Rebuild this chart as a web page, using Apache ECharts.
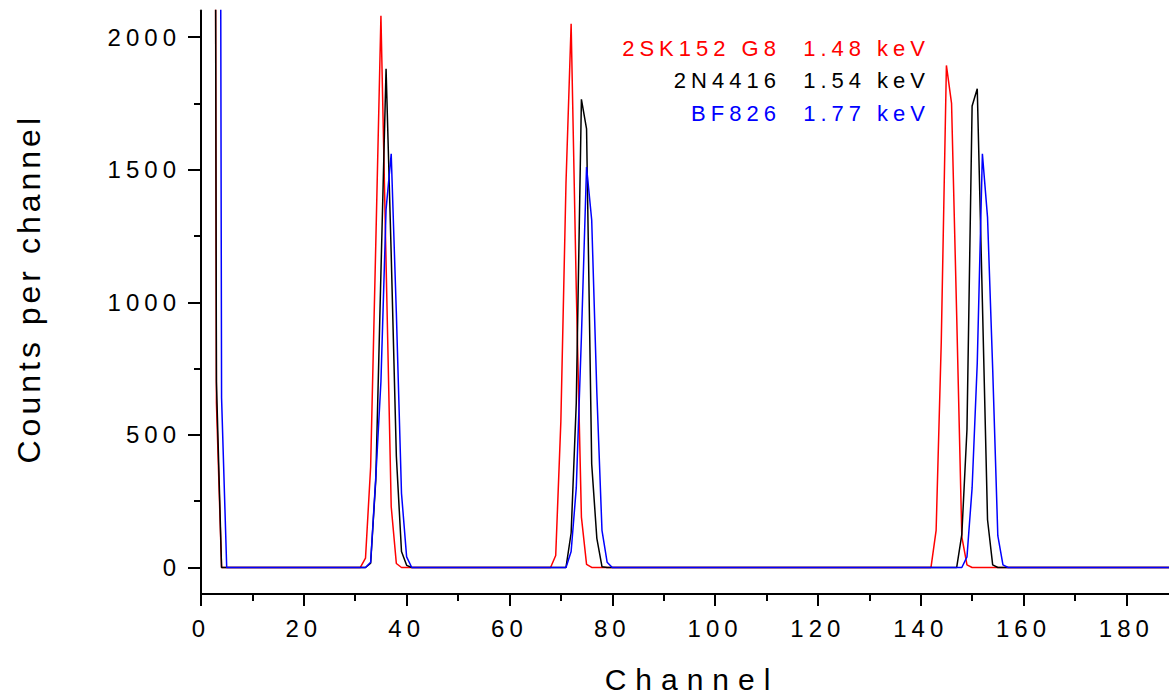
<!DOCTYPE html>
<html><head><meta charset="utf-8">
<script src="https://cdn.jsdelivr.net/npm/echarts@6/dist/echarts.min.js"></script>
<style>
html,body{margin:0;padding:0;background:#fff}
#c{width:1169px;height:698px}
#c text{white-space:pre}
#c text[style*="24px"]{letter-spacing:5px}
#c text[style*="Arial"]{letter-spacing:5px}
#c text[style*="30px"]{letter-spacing:9px}
#c text[style*="32px"]{letter-spacing:4px}
</style></head><body><div id="c"></div>
<script>
// ---- data ----
const channelTicks = [0,20,40,60,80,100,120,140,160,180];
const channelMinorTicks = [10,30,50,70,90,110,130,150,170];
const countTicks = [0,500,1000,1500,2000];
const countMinorTicks = [250,750,1250,1750];

const seriesNames = ['2SK152 G8', '2N4416', 'BF826'];
const legendLabels = ['2SK152 G8  1.48 keV', '2N4416  1.54 keV', 'BF826  1.77 keV'];

const redChannels = [2,3,4, 31,32,33,34,35,36,37,38,39, 68,69,70,71,72,73,74,75,76, 142,143,144,145,146,147,148,149,150, 189];
const redCounts   = [10000,620,0, 0,35,380,1220,2080,1150,230,15,0, 0,45,550,1450,2050,1050,190,12,0, 0,140,850,1893,1750,950,115,10,0, 0];

const blackChannels = [2,3,4, 32,33,34,35,36,37,38,39,40,41, 71,72,73,74,75,76,77,78,79, 147,148,149,150,151,152,153,154,155, 189];
const blackCounts   = [10000,700,0, 0,16,330,1110,1880,1180,420,60,8,0, 0,130,620,1765,1654,390,110,3,0, 0,125,520,1740,1805,1000,180,10,0, 0];

const blueChannels = [3,4,5, 32,33,34,35,36,37,38,39,40,41, 71,72,73,74,75,76,77,78,79,80, 148,149,150,151,152,153,154,155,156,157, 189];
const blueCounts   = [10000,640,0, 0,20,340,700,1350,1560,960,280,40,0, 0,60,300,870,1510,1310,660,140,20,0, 0,40,300,770,1560,1320,750,120,10,0, 0];

const colors = ['#ff0000', '#000000', '#0000ff'];

// ---- build chart ----
function pairs(xs, ys) { return xs.map((x, i) => [x, ys[i]]); }
const seriesData = [pairs(redChannels, redCounts), pairs(blackChannels, blackCounts), pairs(blueChannels, blueCounts)];

const chart = echarts.init(document.getElementById('c'), null, {renderer: 'svg'});
const axisFont = {color: '#000', fontSize: 24, fontFamily: 'Liberation Sans', formatter: v => String(v)};

const option = {
  animation: false,
  backgroundColor: '#ffffff',
  grid: {left: 201, right: 0, top: 10.5, bottom: 104, containLabel: false, outerBoundsMode: 'none'},
  xAxis: [
    {
      type: 'value', min: 0, max: 188.3, position: 'bottom',
      axisLine: {onZero: false, lineStyle: {color: '#000', width: 2}},
      axisTick: {customValues: channelTicks, length: 12, lineStyle: {color: '#000', width: 2}},
      axisLabel: Object.assign({customValues: channelTicks, margin: 22}, axisFont),
      splitLine: {show: false},
      name: 'Channel', nameLocation: 'middle', nameGap: 70, nameMoveOverlap: false,
      nameTextStyle: {fontSize: 30, color: '#000', fontFamily: 'Liberation Sans', padding: [0, 0, 0, 14]}
    },
    {
      type: 'value', min: 0, max: 188.3, position: 'bottom',
      axisLine: {show: false, onZero: false},
      axisTick: {customValues: channelMinorTicks, length: 7, lineStyle: {color: '#000', width: 2}},
      axisLabel: {show: false}, splitLine: {show: false}
    }
  ],
  yAxis: [
    {
      type: 'value', min: -100, max: 2100, position: 'left',
      axisLine: {show: true, onZero: false, lineStyle: {color: '#000', width: 2}},
      axisTick: {customValues: countTicks, length: 13, lineStyle: {color: '#000', width: 2}},
      axisLabel: Object.assign({customValues: countTicks, margin: 20}, axisFont),
      splitLine: {show: false},
      name: 'Counts per channel', nameLocation: 'middle', nameRotate: 90, nameGap: 156, nameMoveOverlap: false,
      nameTextStyle: {fontSize: 32, color: '#000', fontFamily: 'Liberation Sans', padding: [0, 0, 0, 27]}
    },
    {
      type: 'value', min: -100, max: 2100, position: 'left',
      axisLine: {show: false, onZero: false},
      axisTick: {customValues: countMinorTicks, length: 7, lineStyle: {color: '#000', width: 2}},
      axisLabel: {show: false}, splitLine: {show: false}
    }
  ],
  series: seriesNames.map((n, i) => ({
    name: n, type: 'line', xAxisIndex: 0, yAxisIndex: 0,
    data: seriesData[i], showSymbol: false, symbol: 'none', clip: true, silent: true,
    lineStyle: {color: colors[i], width: 1.5}, itemStyle: {color: colors[i]}
  })),
  graphic: legendLabels.map((t, i) => ({
    type: 'text', x: 930, y: 48 + i * 32.5, silent: true,
    style: {text: t, fill: colors[i], font: '22px Arial', textAlign: 'right', textVerticalAlign: 'middle'}
  }))
};
chart.setOption(option);
</script>
</body></html>
